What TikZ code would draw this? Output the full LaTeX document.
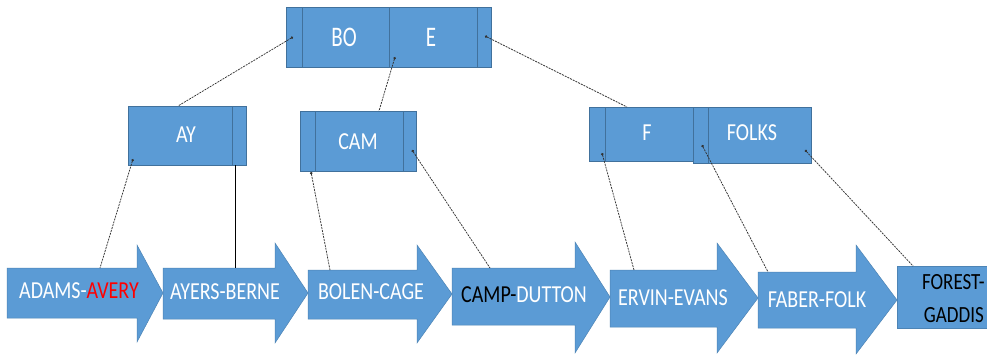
\documentclass[tikz,border=0pt]{standalone}
\usepackage{fontspec}
\setmainfont{Carlito}
\usetikzlibrary{arrows.meta}
\definecolor{bfill}{HTML}{5B9BD5}
\definecolor{bline}{HTML}{41719C}
\newcommand{\tx}[1]{\scalebox{1}[1.22]{#1}}
\newcommand{\txb}[1]{\scalebox{1}[1.35]{#1}}
\begin{document}
\begin{tikzpicture}[x=1pt,y=-1pt,
 tbox/.style={draw=bline, fill=bfill, line width=0.8pt, inner sep=0pt, outer sep=0pt},
 arrowshape/.style={fill=bfill, draw=bfill!85!black, line width=0.5pt},
 lbl/.style={text=white, font=\fontsize{20}{22}\selectfont, inner sep=0pt},
 dlbl/.style={lbl, text=black, font=\fontsize{19}{21}\selectfont},
 link/.style={draw=black!80, line width=0.75pt, dash pattern=on 2pt off 1pt, {Circle[length=2.5pt]}-},
 divider/.style={draw=bline, line width=0.8pt}]
\clip (0,0) rectangle (987,356);
\useasboundingbox (0,0) rectangle (987,356);
\fill[white] (0,0) rectangle (987,356);

% tree boxes
\node[tbox, minimum width=205pt, minimum height=60pt] (root) at (388.5,37) {};
\draw[divider] (302,7) -- (302,67) (389,7) -- (389,67) (477,7) -- (477,67);
\node[lbl, font=\fontsize{21}{23}\selectfont] (bo) at (344,37) {\txb{BO}};
\node[lbl, font=\fontsize{21}{23}\selectfont] (e) at (431,37) {\txb{E}};

\node[tbox, minimum width=118pt, minimum height=59pt] (ay) at (187,135.5) {};
\draw[divider] (232,106) -- (232,165);
\node[lbl] (ayt) at (186,135) {\tx{AY}};

\node[tbox, minimum width=116pt, minimum height=60pt] (cam) at (358,141) {};
\draw[divider] (315,111) -- (315,171) (403,111) -- (403,171);
\node[lbl] (camt) at (358,142) {\tx{CAM}};

\node[tbox, minimum width=104pt, minimum height=54pt] (f) at (641,134) {};
\draw[divider] (605,107) -- (605,161);
\node[lbl] (ft) at (647,133) {\tx{F}};

\node[tbox, minimum width=118pt, minimum height=56pt] (folks) at (752,135) {};
\draw[divider] (708,107) -- (708,163);
\node[lbl] (folkst) at (752,133) {\tx{FOLKS}};

% leaf arrows
\path[arrowshape] (7,268) -- (137,268) -- (137,245) -- (163,293) -- (137,342) -- (137,318) -- (7,318) -- cycle;
\path[arrowshape] (163,268) -- (275,268) -- (275,243) -- (308,293) -- (275,343) -- (275,319) -- (163,319) -- cycle;
\path[arrowshape] (308,270) -- (417,270) -- (417,245) -- (452,294) -- (417,343) -- (417,319) -- (308,319) -- cycle;
\path[arrowshape] (452,268) -- (575,268) -- (575,242) -- (610,297) -- (575,353) -- (575,325) -- (452,325) -- cycle;
\path[arrowshape] (610,270) -- (717,270) -- (717,243) -- (758,298) -- (717,353) -- (717,327) -- (610,327) -- cycle;
\path[arrowshape] (758,272) -- (856,272) -- (856,245) -- (897,300) -- (856,354) -- (856,328) -- (758,328) -- cycle;
\path[arrowshape] (897,266) rectangle (1000,328);

\node[lbl] (l1) at (79,291) {\tx{ADAMS-\textcolor{red}{AVERY}}};
\node[lbl] (l2) at (225,292) {\tx{AYERS-BERNE}};
\node[lbl] (l3) at (371,292) {\tx{BOLEN-CAGE}};
\node[lbl] (l4) at (524,295) {\tx{\textcolor{black}{CAMP-}DUTTON}};
\node[lbl] (l5) at (673,298) {\tx{ERVIN-EVANS}};
\node[lbl] (l6) at (817,300) {\tx{FABER-FOLK}};
\node[dlbl, anchor=east] (l7a) at (985,282) {\tx{FOREST-}};
\node[dlbl, anchor=east] (l7b) at (984,315) {\tx{GADDIS}};

% connector ends
\coordinate (r1) at (293,37);  \coordinate (ayTop) at (178,106);
\coordinate (r2) at (395,57);  \coordinate (camTop) at (379,111);
\coordinate (r3) at (485,36);  \coordinate (fTop) at (627,107);
\coordinate (a1) at (133,159); \coordinate (leaf1) at (100,268);
\coordinate (a2) at (235,165); \coordinate (leaf2) at (235,268);
\coordinate (c1) at (311,172); \coordinate (leaf3) at (330,270);
\coordinate (c2) at (412,150); \coordinate (leaf4) at (490,268);
\coordinate (f1) at (602,153); \coordinate (leaf5) at (634,270);
\coordinate (f2) at (702,145); \coordinate (leaf6) at (768,272);
\coordinate (f3) at (805,150); \coordinate (leaf7) at (913,266);

\draw[link] (r1) -- (ayTop);
\draw[link] (r2) -- (camTop);
\draw[link] (r3) -- (fTop);
\draw[link] (a1) -- (leaf1);
\draw[black, line width=1pt] (a2) -- (leaf2);
\draw[link] (c1) -- (leaf3);
\draw[link] (c2) -- (leaf4);
\draw[link] (f1) -- (leaf5);
\draw[link] (f2) -- (leaf6);
\draw[link] (f3) -- (leaf7);
\end{tikzpicture}
\end{document}
